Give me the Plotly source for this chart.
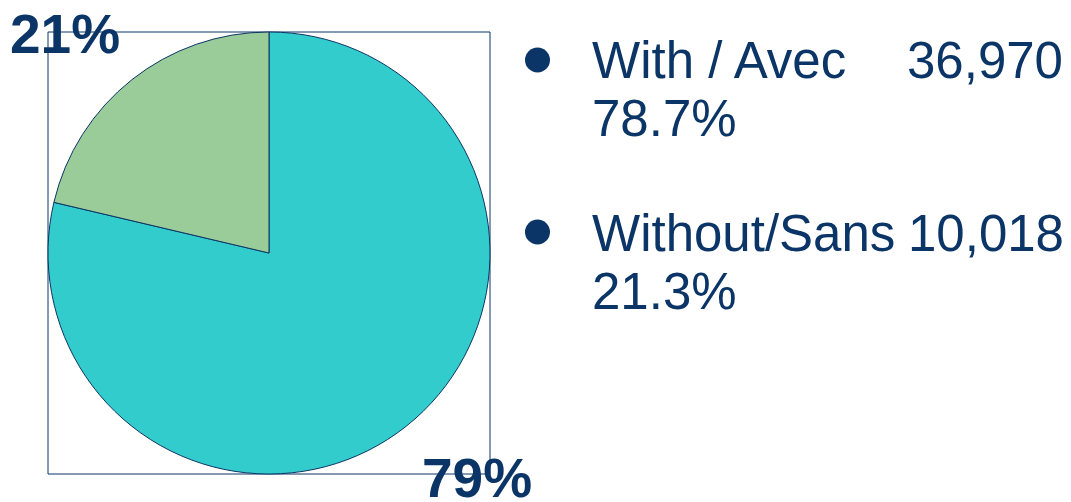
import plotly.graph_objects as go

labels = ["With / Avec", "Without/Sans"]
values = [36970, 10018]
percents = [78.7, 21.3]
pie_labels = ["79%", "21%"]
colors = ["#33CCCC", "#99CC99"]

OFF = 8  # page body margin
W, H = 1071 - OFF, 502 - OFF
NAVY = "#0B3566"


def px(x):
    return (x - OFF) / W


def py(y):
    return 1 - (y - OFF) / H


fig = go.Figure()
fig.add_trace(go.Pie(
    labels=labels, values=values, sort=False, direction="clockwise", rotation=0,
    marker=dict(colors=colors, line=dict(color=NAVY, width=1)),
    textinfo="none", hoverinfo="label+value+percent", showlegend=False,
    domain=dict(x=[px(48), px(490)], y=[py(474), py(32)]),
))

shapes = [
    dict(type="rect", xref="paper", yref="paper", x0=px(48), x1=px(490), y0=py(474), y1=py(32),
         line=dict(color=NAVY, width=1), layer="below"),
]
for cy in [60, 232]:
    shapes.append(dict(type="circle", xref="paper", yref="paper",
                       x0=px(525), x1=px(550), y0=py(cy + 12.5), y1=py(cy - 12.5),
                       fillcolor=NAVY, line=dict(color=NAVY, width=0)))

ann = []
font_big = dict(family="Liberation Sans, Arial, sans-serif", size=51, color=NAVY)
font_bold = dict(family="Liberation Sans, Arial, sans-serif", size=55, color=NAVY, weight="bold")

# pie percentage labels
ann.append(dict(text="<b>" + pie_labels[1] + "</b>", x=px(8), y=py(34), xanchor="left", yanchor="middle",
                xref="paper", yref="paper", showarrow=False, font=font_bold))
ann.append(dict(text="<b>" + pie_labels[0] + "</b>", x=px(420), y=py(478), xanchor="left", yanchor="middle",
                xref="paper", yref="paper", showarrow=False, font=font_bold))

# legend text
rows = [(61, 118, 905), (233, 291, 906)]
for i, (y1, y2, xn) in enumerate(rows):
    ann.append(dict(text=labels[i], x=px(590), y=py(y1), xanchor="left", yanchor="middle",
                    xref="paper", yref="paper", showarrow=False, font=font_big))
    ann.append(dict(text=f"{values[i]:,}", x=px(xn), y=py(y1), xanchor="left", yanchor="middle",
                    xref="paper", yref="paper", showarrow=False, font=font_big))
    ann.append(dict(text=f"{percents[i]:.1f}%", x=px(590), y=py(y2), xanchor="left", yanchor="middle",
                    xref="paper", yref="paper", showarrow=False, font=font_big))

fig.update_layout(
    width=W, height=H, margin=dict(l=0, r=0, t=0, b=0),
    paper_bgcolor="white", plot_bgcolor="white",
    shapes=shapes, annotations=ann,
)

fig.write_html("out.html")
